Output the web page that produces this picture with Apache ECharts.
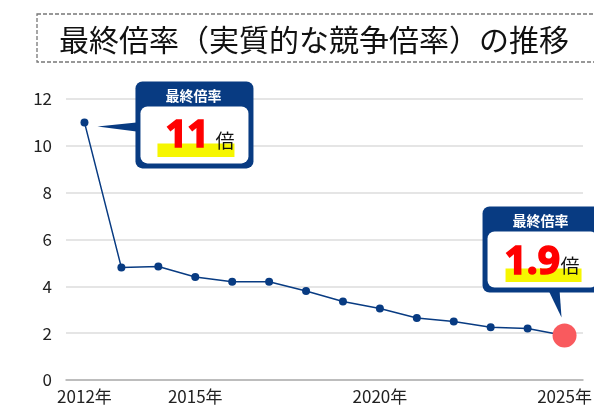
<!DOCTYPE html>
<html>
<head>
<meta charset="utf-8">
<script src="https://cdn.jsdelivr.net/npm/echarts@6/dist/echarts.min.js"></script>
<style>
  html, body { margin: 0; padding: 0; background: #fff; }
  #chart { width: 594px; height: 409px; }
</style>
</head>
<body>
<div id="chart"></div>
<script>
// 年度
var years = ['2012年', '2013年', '2014年', '2015年', '2016年', '2017年', '2018年',
  '2019年', '2020年', '2021年', '2022年', '2023年', '2024年', '2025年'];
// 最終倍率
var ratios = [11, 4.8, 4.85, 4.4, 4.2, 4.2, 3.8, 3.35, 3.05, 2.65, 2.5, 2.25, 2.2, 1.9];
// x軸に表示する年
var shownYears = ['2012年', '2015年', '2020年', '2025年'];
var yTicks = [0, 2, 4, 6, 8, 10, 12];

var titleText = '最終倍率（実質的な競争倍率）の推移';
var calloutHead = '最終倍率';
var navy = '#083b82';
var jpFont = '"Noto Sans CJK JP", sans-serif';

var chart = echarts.init(document.getElementById('chart'));

var lastIdx = ratios.length - 1;
var seriesData = ratios.map(function (v, i) {
  if (i === lastIdx) {
    return { value: v, symbolSize: 24, itemStyle: { color: '#f95a5e' } };
  }
  return v;
});

var option = {
  animation: false,
  grid: { left: 66, right: 11, top: 99, bottom: 29, outerBoundsMode: 'none' },
  xAxis: {
    type: 'category',
    data: years,
    boundaryGap: true,
    axisTick: { show: false },
    axisLine: { show: true, lineStyle: { color: '#b0b0b0', width: 1.5 } },
    axisLabel: {
      interval: 0,
      color: '#222',
      fontSize: 17,
      fontFamily: jpFont,
      margin: 8,
      formatter: function (v) { return shownYears.indexOf(v) >= 0 ? v : ''; }
    }
  },
  yAxis: {
    type: 'value',
    min: yTicks[0],
    max: yTicks[yTicks.length - 1],
    interval: 2,
    axisLine: { show: false },
    axisTick: { show: false },
    axisLabel: { color: '#222', fontSize: 17, fontFamily: jpFont, margin: 14 },
    splitLine: { lineStyle: { color: '#dcdcdc', width: 1.5 } }
  },
  series: [{
    type: 'line',
    data: seriesData,
    symbol: 'circle',
    symbolSize: 8,
    lineStyle: { color: navy, width: 1.5 },
    itemStyle: { color: navy },
    z: 3
  }]
};
chart.setOption(option);

// 吹き出し（データ点の位置から配置）
function callout(o) {
  var x = o.x, y = o.y, w = o.w, h = o.h;
  return [
    { type: 'polygon', shape: { points: o.pointer }, style: { fill: navy } },
    { type: 'rect', shape: { x: x, y: y, width: w, height: h, r: 7 }, style: { fill: navy } },
    { type: 'text', style: { x: x + 58, y: y + 14, text: calloutHead, fill: '#fff',
        font: 'bold 14px ' + jpFont, align: 'center', verticalAlign: 'middle' } },
    { type: 'rect', shape: { x: x + 5, y: y + 25, width: w - 10, height: h - 30, r: 7 }, style: { fill: '#fff' } },
    { type: 'rect', shape: { x: o.hlX, y: y + 62, width: o.hlW, height: 13.5 }, style: { fill: '#f6f600' } },
    { type: 'text', style: { x: o.numX, y: y + o.numY, text: o.num, fill: '#ff0000',
        stroke: '#ff0000', lineWidth: 1.6,
        font: 'bold ' + o.numSize + 'px "Noto Sans", sans-serif', align: 'left', verticalAlign: 'middle' } },
    { type: 'text', style: { x: o.baiX, y: y + 59, text: '倍', fill: '#111',
        font: '19px ' + jpFont, align: 'left', verticalAlign: 'middle' } }
  ];
}

var p0 = chart.convertToPixel({ seriesIndex: 0 }, [0, ratios[0]]);
var pN = chart.convertToPixel({ seriesIndex: 0 }, [lastIdx, ratios[lastIdx]]);

var b1x = p0[0] + 51, b1y = p0[1] - 41;
var c1 = callout({
  x: b1x, y: b1y, w: 118, h: 87,
  num: String(ratios[0]), numSize: 38, numY: 55,
  numX: b1x + 30, hlX: b1x + 22, hlW: 77, baiX: b1x + 80,
  pointer: [[p0[0] + 13, p0[1] + 4], [b1x + 1, p0[1]], [b1x + 1, p0[1] + 9]]
});

var b2x = pN[0] - 82, b2y = pN[1] - 129;
var c2 = callout({
  x: b2x, y: b2y, w: 120, h: 86,
  num: ratios[lastIdx].toFixed(1), numSize: 39, numY: 56,
  numX: b2x + 22, hlX: b2x + 23, hlW: 76, baiX: b2x + 78,
  pointer: [[b2x + 66, b2y + 84], [b2x + 77, b2y + 84], [pN[0] - 3, pN[1] - 18]]
});

chart.setOption({
  graphic: [
    { type: 'rect', shape: { x: 37, y: 14, width: 580, height: 48 },
      style: { fill: '#fff', stroke: '#777', lineWidth: 1.3, lineDash: [4, 2] } },
    { type: 'text', style: { x: 59, y: 40, text: titleText, fill: '#111',
        font: '30px ' + jpFont, verticalAlign: 'middle' } },
    { type: 'group', children: c1, z: 10 },
    { type: 'group', children: c2, z: 10 }
  ]
});
</script>
</body>
</html>
